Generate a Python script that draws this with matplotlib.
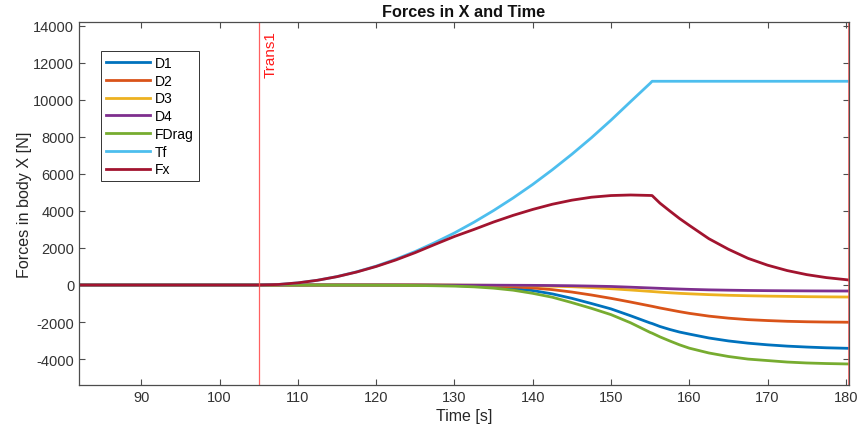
import matplotlib
matplotlib.use("Agg")
import matplotlib.pyplot as plt

plt.rcParams["font.family"] = ["Liberation Sans", "DejaVu Sans"]
plt.rcParams["axes.unicode_minus"] = False

# Time samples [s]
time = [80, 105, 107.5, 110, 112.5, 115, 117.5, 120, 122.5, 125, 127.5, 130,
        132.5, 135, 137.5, 140, 142.5, 145, 147.5, 150, 152.5, 155, 155.25,
        156.25, 157.5, 158.75, 160, 162.5, 165, 167.5, 170, 172.5, 175, 177.5,
        180.4]

# Force components in body X [N]
d1 = [0, 0, 0, 0, 0, 0, 0, 0, -3, -8, -15, -30,
      -60, -110, -190, -300, -480, -720, -1000, -1290, -1660, -2050, -2080,
      -2240, -2400, -2540, -2650, -2860, -3020, -3140, -3230, -3300, -3350,
      -3390, -3420]
d2 = [0, 0, 0, 0, 0, 0, 0, 0, 0, -3, -8, -15,
      -30, -60, -100, -160, -250, -380, -540, -720, -920, -1130, -1150,
      -1240, -1340, -1440, -1530, -1680, -1790, -1870, -1920, -1960, -1985,
      -2000, -2010]
d3 = [0, 0, 0, 0, 0, 0, 0, 0, 0, 0, -3, -6,
      -12, -20, -30, -45, -65, -92, -140, -200, -270, -345, -352,
      -385, -420, -450, -475, -520, -555, -580, -600, -615, -630, -640, -650]
d4 = [0, 0, 0, 0, 0, 0, 0, 0, 0, 0, -2, -4,
      -7, -10, -15, -20, -28, -40, -58, -80, -118, -160, -164,
      -180, -200, -218, -235, -262, -280, -295, -305, -312, -318, -322, -325]
fdrag = [0, 0, -2, -4, -6, -8, -10, -12, -18, -25, -40, -60,
         -100, -170, -280, -450, -660, -950, -1260, -1600, -2040, -2560, -2600,
         -2800, -3020, -3230, -3410, -3670, -3860, -4000, -4080, -4160, -4210,
         -4240, -4265]
tf = [0, 0, 28, 115, 255, 455, 710, 1020, 1390, 1810, 2290, 2810,
      3390, 4020, 4700, 5430, 6220, 7060, 7950, 8900, 9900, 10890, 11000,
      11000, 11000, 11000, 11000, 11000, 11000, 11000, 11000, 11000, 11000,
      11000, 11000]
fx = [0, 0, 28, 115, 255, 450, 700, 1000, 1350, 1750, 2190, 2620,
      3000, 3400, 3760, 4080, 4360, 4580, 4740, 4830, 4860, 4835, 4830,
      4420, 4000, 3590, 3220, 2500, 1930, 1440, 1070, 780, 560, 400, 270]

series = [("D1", d1, "#0072BD"), ("D2", d2, "#D95319"), ("D3", d3, "#EDB120"),
          ("D4", d4, "#7E2F8E"), ("FDrag", fdrag, "#77AC30"),
          ("Tf", tf, "#4DBEEE"), ("Fx", fx, "#A2142F")]

x_ticks = [90, 100, 110, 120, 130, 140, 150, 160, 170, 180]
y_ticks = [-4000, -2000, 0, 2000, 4000, 6000, 8000, 10000, 12000, 14000]
trans_time = 105
end_time = 180.4

fig = plt.figure(figsize=(8.6, 4.39), dpi=100)
ax = fig.add_axes([0.0919, 0.1207, 0.8953, 0.8269])

for name, vals, col in series:
    ax.plot(time, vals, color=col, lw=2.0, label=name, solid_joinstyle="round")

ax.set_xlim(82.05, end_time)
ax.set_ylim(-5400, 14200)
ax.set_xticks(x_ticks)
ax.set_yticks(y_ticks)

# Transition markers
ax.axvline(trans_time, color="#ff5050", lw=0.9, alpha=0.9)
ax.axvline(end_time, color="#ff5050", lw=1.2, alpha=0.9)
ax.text(trans_time + 0.6, 13750, "Trans1", color="#ff1a1a", rotation=90,
        ha="left", va="top", fontsize=11)

axis_col = "#4d4d4d"
for s in ax.spines.values():
    s.set_color(axis_col)
    s.set_linewidth(0.9)
ax.tick_params(direction="in", top=True, right=True, length=4,
               color=axis_col, labelcolor="#333333", labelsize=10.5, width=0.8)

ax.set_title("Forces in X and Time", fontsize=11.7, fontweight="bold", pad=4,
             color="#111111")
ax.set_xlabel("Time [s]", fontsize=11.5, color="#262626", labelpad=3)
ax.set_ylabel("Forces in body X [N]", fontsize=11.6, color="#262626",
              labelpad=1)

leg = ax.legend(loc="upper left", bbox_to_anchor=(0.0286, 0.920),
                borderaxespad=0, fontsize=10, handlelength=3.2,
                handletextpad=0.35, labelspacing=0.27, borderpad=0.35,
                fancybox=False, framealpha=1)
leg.get_frame().set_edgecolor("#333333")
leg.get_frame().set_linewidth(0.7)

fig.savefig("out.png", dpi=100)
